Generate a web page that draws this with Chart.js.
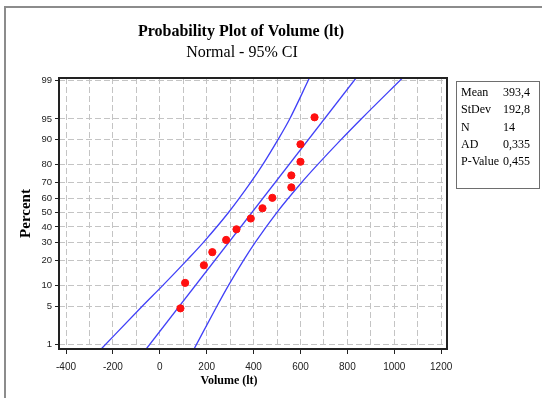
<!DOCTYPE html>
<html>
<head>
<meta charset="utf-8">
<script src="https://cdn.jsdelivr.net/npm/chart.js@4.4.1/dist/chart.umd.min.js"></script>
<style>
  html, body { margin: 0; padding: 0; background: #fff; }
</style>
</head>
<body>
<canvas id="chart" width="542" height="398"></canvas>
<script>
// observed volumes (lt) and their plotted percent
const volumes  = [88, 108, 188, 224, 283, 327, 388, 438, 480, 561, 561, 600, 600, 660];
const percents = [4.6, 10.8, 17.7, 24.3, 31.5, 38.4, 45.8, 53.0, 60.2, 67.1, 74.3, 81.4, 88.5, 95.3];

// fitted line and 95% CI bands
const fitPcts   = [0.82, 99.1];
const fitValues = [-58, 837];
const ciPcts    = [0.82, 5, 10, 20, 30, 50, 70, 80, 90, 95, 99.1];
const ciLower   = [-250, -74, 13, 115, 186, 293, 387, 439, 504, 554, 638];
const ciUpper   = [146, 244, 293, 357, 407, 499, 604, 673, 773, 859, 1035];

// axes
const yTickPcts   = [1, 5, 10, 20, 30, 40, 50, 60, 70, 80, 90, 95, 99];
const yRange      = [0.82, 99.1];
const xTickLabels = [-400, -200, 0, 200, 400, 600, 800, 1000, 1200];
const xGrid       = [-400, -300, -200, -100, 0, 100, 200, 300, 400, 500, 600, 700, 800, 900, 1000, 1100, 1200];
const xRange      = [-430, 1225];

const statLabels = ['Mean', 'StDev', 'N', 'AD', 'P-Value'];
const statValues = ['393,4', '192,8', '14', '0,335', '0,455'];

// inverse normal cdf (Acklam)
function probit(p) {
  const a = [-3.969683028665376e+01, 2.209460984245205e+02, -2.759285104469687e+02, 1.383577518672690e+02, -3.066479806614716e+01, 2.506628277459239e+00];
  const b = [-5.447609879822406e+01, 1.615858368580409e+02, -1.556989798598866e+02, 6.680131188771972e+01, -1.328068155288572e+01];
  const c = [-7.784894002430293e-03, -3.223964580411365e-01, -2.400758277161838e+00, -2.549671669506445e+00, 4.374664141464968e+00, 2.938163982698783e+00];
  const d = [7.784695709041462e-03, 3.224671290700398e-01, 2.445134137142996e+00, 3.754408661907416e+00];
  const pl = 0.02425;
  if (p < pl) {
    const q = Math.sqrt(-2 * Math.log(p));
    return (((((c[0]*q+c[1])*q+c[2])*q+c[3])*q+c[4])*q+c[5]) / ((((d[0]*q+d[1])*q+d[2])*q+d[3])*q+1);
  }
  if (p > 1 - pl) {
    const q = Math.sqrt(-2 * Math.log(1 - p));
    return -(((((c[0]*q+c[1])*q+c[2])*q+c[3])*q+c[4])*q+c[5]) / ((((d[0]*q+d[1])*q+d[2])*q+d[3])*q+1);
  }
  const q = p - 0.5, r = q * q;
  return (((((a[0]*r+a[1])*r+a[2])*r+a[3])*r+a[4])*r+a[5])*q / (((((b[0]*r+b[1])*r+b[2])*r+b[3])*r+b[4])*r+1);
}

// normal probability scale: values are percents
class ProbitScale extends Chart.LinearScale {
  static id = 'probit';
  static defaults = {};
  determineDataLimits() {
    this.min = this.options.min;
    this.max = this.options.max;
  }
  buildTicks() {
    return yTickPcts.map(v => ({ value: v }));
  }
  getPixelForValue(value) {
    const z0 = probit(this.min / 100), z1 = probit(this.max / 100);
    return this.getPixelForDecimal((probit(value / 100) - z0) / (z1 - z0));
  }
  getValueForPixel(pixel) {
    const z0 = probit(this.min / 100), z1 = probit(this.max / 100);
    const z = z0 + this.getDecimalForPixel(pixel) * (z1 - z0);
    let lo = 1e-6, hi = 1 - 1e-6;
    for (let i = 0; i < 50; i++) {
      const mid = (lo + hi) / 2;
      if (probit(mid) < z) lo = mid; else hi = mid;
    }
    return lo * 100;
  }
}
Chart.register(ProbitScale);

const pairs = (xs, ys) => xs.map((x, i) => ({ x: x, y: ys[i] }));
const BLUE = '#4040f8';

const decor = {
  id: 'decor',
  beforeDraw(chart) {
    const ctx = chart.ctx;
    ctx.save();
    ctx.fillStyle = '#fff';
    ctx.fillRect(0, 0, chart.width, chart.height);
    ctx.restore();
  },
  afterDraw(chart) {
    const ctx = chart.ctx;
    const a = chart.chartArea;
    ctx.save();
    // outer frame
    ctx.strokeStyle = '#8c8c8c';
    ctx.lineWidth = 2;
    ctx.beginPath();
    ctx.moveTo(5, 398);
    ctx.lineTo(5, 7);
    ctx.lineTo(542, 7);
    ctx.stroke();
    // plot box
    ctx.strokeStyle = '#222';
    ctx.lineWidth = 2;
    ctx.strokeRect(a.left, a.top, a.right - a.left, a.bottom - a.top);
    // titles
    ctx.fillStyle = '#000';
    ctx.textAlign = 'center';
    ctx.textBaseline = 'middle';
    ctx.font = 'bold 16px "Liberation Serif"';
    ctx.fillText('Probability Plot of Volume (lt)', 241, 32);
    ctx.font = '16px "Liberation Serif"';
    ctx.fillText('Normal - 95% CI', 242, 53);
    ctx.font = 'bold 12px "Liberation Serif"';
    ctx.fillText('Volume (lt)', 229, 381);
    // stats box
    ctx.strokeStyle = '#6e6e6e';
    ctx.lineWidth = 1;
    ctx.strokeRect(456.5, 81.5, 83, 107);
    ctx.textAlign = 'left';
    ctx.font = '12px "Liberation Serif"';
    statLabels.forEach((s, i) => {
      const y = 93 + i * 17.2;
      ctx.fillText(s, 461, y);
      ctx.fillText(statValues[i], 503, y);
    });
    ctx.restore();
  }
};

new Chart(document.getElementById('chart'), {
  type: 'scatter',
  data: {
    datasets: [
      {
        label: 'Volume',
        data: pairs(volumes, percents),
        backgroundColor: '#ff1010',
        borderColor: '#ff1010',
        pointRadius: 3.6,
        order: 0
      },
      {
        label: 'Fit',
        data: pairs(fitValues, fitPcts),
        showLine: true,
        borderColor: BLUE,
        borderWidth: 1.3,
        pointRadius: 0,
        order: 1
      },
      {
        label: 'Lower CI',
        data: pairs(ciLower, ciPcts),
        showLine: true,
        borderColor: BLUE,
        borderWidth: 1.3,
        pointRadius: 0,
        cubicInterpolationMode: 'monotone',
        order: 1
      },
      {
        label: 'Upper CI',
        data: pairs(ciUpper, ciPcts),
        showLine: true,
        borderColor: BLUE,
        borderWidth: 1.3,
        pointRadius: 0,
        cubicInterpolationMode: 'monotone',
        order: 1
      }
    ]
  },
  options: {
    responsive: false,
    animation: false,
    events: [],
    layout: { padding: { left: 0, top: 78, right: 95, bottom: 0 } },
    plugins: {
      legend: { display: false },
      tooltip: { enabled: false }
    },
    scales: {
      x: {
        type: 'linear',
        min: xRange[0],
        max: xRange[1],
        afterBuildTicks: (scale) => { scale.ticks = xGrid.map(v => ({ value: v })); },
        afterFit: (scale) => { scale.height = 49; },
        grid: {
          color: '#c4c4c4',
          lineWidth: 1,
          tickLength: 5,
          tickWidth: 1,
          tickColor: (ctx) => (ctx.tick && xTickLabels.includes(ctx.tick.value)) ? '#222' : 'rgba(0,0,0,0)'
        },
        border: { display: false, dash: [6, 3] },
        ticks: {
          autoSkip: false,
          maxRotation: 0,
          padding: 7,
          color: '#222',
          font: { family: '"Liberation Sans Narrow", "Liberation Sans", sans-serif', size: 10 },
          callback: (v) => xTickLabels.includes(v) ? String(v) : ''
        }
      },
      y: {
        type: 'probit',
        min: yRange[0],
        max: yRange[1],
        afterFit: (scale) => { scale.width = 59; },
        grid: {
          color: '#c4c4c4',
          lineWidth: 1,
          tickLength: 4,
          tickWidth: 1,
          tickColor: '#222'
        },
        border: { display: false, dash: [6, 3] },
        ticks: {
          autoSkip: false,
          padding: 3,
          color: '#222',
          font: { family: '"Liberation Sans Narrow", "Liberation Sans", sans-serif', size: 9.5 },
          callback: (v) => String(v)
        },
        title: {
          display: true,
          text: 'Percent',
          color: '#000',
          padding: { top: 17, bottom: 0 },
          font: { family: '"Liberation Serif"', size: 15, weight: 'bold' }
        }
      }
    }
  },
  plugins: [decor]
});
</script>
</body>
</html>
